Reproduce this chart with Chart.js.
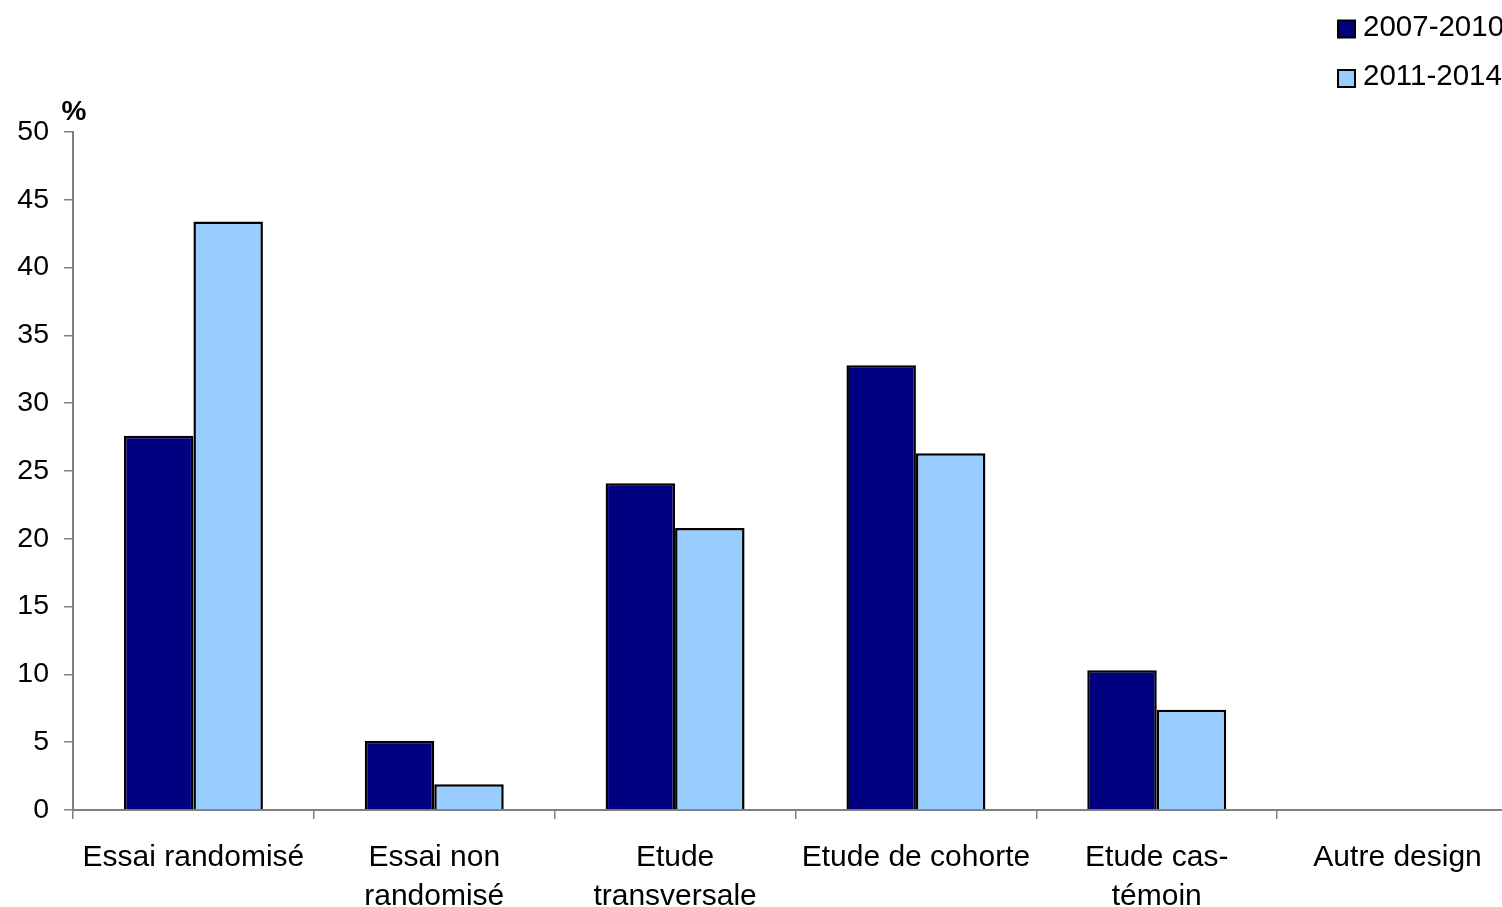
<!DOCTYPE html>
<html>
<head>
<meta charset="utf-8">
<script src="https://cdn.jsdelivr.net/npm/chart.js@4/dist/chart.umd.min.js"></script>
<style>
  html, body { margin: 0; padding: 0; background: #fff; overflow: hidden; }
  #wrap { width: 1520px; height: 907px; }
</style>
</head>
<body>
<div id="wrap"><canvas id="barChart" width="1520" height="907"></canvas></div>
<script>
// study designs, share of publications per period (%)
const categories = [
    'Essai randomisé',
    ['Essai non', 'randomisé'],
    ['Etude', 'transversale'],
    'Etude de cohorte',
    ['Etude cas-', 'témoin'],
    'Autre design'
];
const period1 = [27.6, 5.1, 24.1, 32.8, 10.3, 0];
const period2 = [43.4, 1.9, 20.8, 26.3, 7.4, 0];
const seriesNames = ['2007-2010', '2011-2014'];
const yTicks = { min: 0, max: 50, step: 5 };

const axisGrey = '#808080';
const labelFont = 'Liberation Sans, Arial, sans-serif';

// legend in the top right corner, boxes slightly below the text middle
const cornerLegend = {
    id: 'cornerLegend',
    afterDraw(chart) {
        const ctx = chart.ctx;
        ctx.save();
        chart.data.datasets.forEach((ds, i) => {
            const y = 26.5 + i * 49.5;
            ctx.fillStyle = ds.backgroundColor;
            ctx.fillRect(1338, y - 6, 17, 17);
            ctx.strokeStyle = '#000';
            ctx.lineWidth = 2;
            ctx.strokeRect(1338, y - 6, 17, 17);
            ctx.fillStyle = '#000';
            ctx.font = '29.5px ' + labelFont;
            ctx.textAlign = 'left';
            ctx.textBaseline = 'middle';
            ctx.fillText(ds.label, 1363, y + 1);
        });
        ctx.restore();
    }
};

// unit sign above the value axis
const unitLabel = {
    id: 'unitLabel',
    afterDraw(chart) {
        const ctx = chart.ctx;
        const area = chart.chartArea;
        ctx.save();
        ctx.fillStyle = '#000';
        ctx.font = 'bold 28px ' + labelFont;
        ctx.textAlign = 'center';
        ctx.textBaseline = 'middle';
        ctx.fillText('%', area.left + 1, area.top - 20);
        ctx.restore();
    }
};

const ctx = document.getElementById('barChart').getContext('2d');
new Chart(ctx, {
    type: 'bar',
    data: {
        labels: categories,
        datasets: [{
            label: seriesNames[0],
            data: period1,
            backgroundColor: '#000080',
            borderColor: '#000',
            borderWidth: 2.5
        }, {
            label: seriesNames[1],
            data: period2,
            backgroundColor: '#99ccff',
            borderColor: '#000',
            borderWidth: 2.5
        }]
    },
    options: {
        responsive: false,
        animation: false,
        layout: { padding: { top: 132, right: 2, left: 0, bottom: 0 } },
        datasets: {
            bar: { categoryPercentage: 0.577, barPercentage: 1 }
        },
        plugins: {
            legend: { display: false },
            tooltip: { enabled: false }
        },
        scales: {
            x: {
                offset: true,
                grid: {
                    offset: true,
                    drawOnChartArea: false,
                    drawTicks: true,
                    tickLength: 9,
                    color: axisGrey,
                    lineWidth: 1.5
                },
                border: { color: axisGrey, width: 2 },
                ticks: {
                    color: '#000',
                    font: { family: labelFont, size: 30, lineHeight: 1.3 },
                    padding: 19,
                    maxRotation: 0,
                    autoSkip: false
                },
                afterFit(scale) { scale.height = 97; }
            },
            y: {
                min: yTicks.min,
                max: yTicks.max,
                grid: {
                    drawOnChartArea: false,
                    drawTicks: true,
                    tickLength: 9,
                    color: axisGrey,
                    lineWidth: 1.5
                },
                border: { color: axisGrey, width: 2 },
                ticks: {
                    stepSize: yTicks.step,
                    color: '#000',
                    font: { family: labelFont, size: 28.5 },
                    padding: 15
                },
                afterFit(scale) { scale.width = 73; }
            }
        }
    },
    plugins: [cornerLegend, unitLabel]
});
</script>
</body>
</html>
